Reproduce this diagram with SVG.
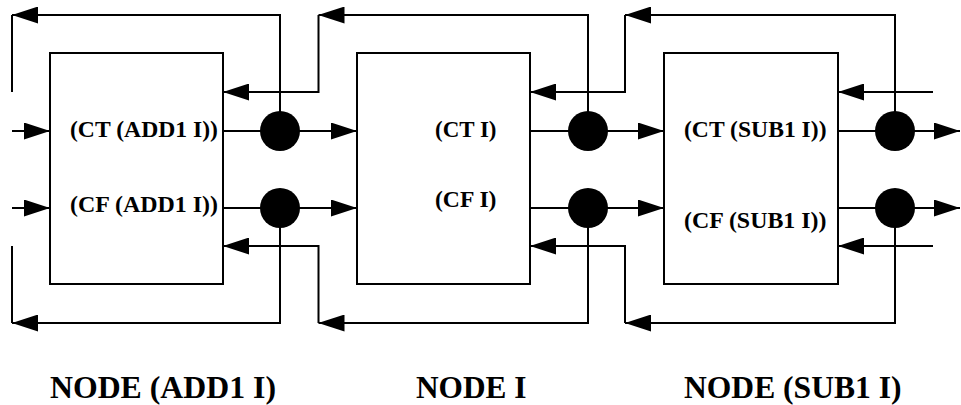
<svg xmlns="http://www.w3.org/2000/svg" width="961" height="405" viewBox="0 0 961 405">
<style>
.box{fill:#fff;stroke:#000;stroke-width:2}
.ln{fill:none;stroke:#000;stroke-width:2}
.ah{marker-end:url(#ah)}
.dot{fill:#000}
text{font-family:'Liberation Serif','Times New Roman',serif;font-weight:bold;fill:#000}
.lbl{font-size:23.5px}
.cap{font-size:31.5px}
</style>
<defs>
<marker id="ah" viewBox="0 0 26 17" refX="26" refY="8.5" markerWidth="26" markerHeight="17" markerUnits="userSpaceOnUse" orient="auto">
<path d="M0,0 L26,8.5 L0,17 z" fill="#000"/>
</marker>
</defs>
<rect width="961" height="405" fill="#fff"/>
<g id="connectors">
<path class="ln ah" d="M12,131 H50"/>
<path class="ln ah" d="M223,131 H357"/>
<path class="ln ah" d="M530,131 H664"/>
<path class="ln ah" d="M838,131 H960"/>
<path class="ln ah" d="M12,208 H50"/>
<path class="ln ah" d="M223,208 H357"/>
<path class="ln ah" d="M530,208 H664"/>
<path class="ln ah" d="M838,208 H960"/>
<path class="ln ah" d="M280,131 V15 H12"/>
<path class="ln" d="M12,15 V92"/>
<path class="ln ah" d="M588,131 V15 H318.5"/>
<path class="ln ah" d="M318.5,15 V92 H223"/>
<path class="ln ah" d="M895,131 V15 H625"/>
<path class="ln ah" d="M625,15 V92 H530"/>
<path class="ln ah" d="M933,92 H838"/>
<path class="ln ah" d="M280,208 V323 H12"/>
<path class="ln" d="M12,323 V246"/>
<path class="ln ah" d="M588,208 V323 H318.5"/>
<path class="ln ah" d="M318.5,323 V246 H223"/>
<path class="ln ah" d="M895,208 V323 H625"/>
<path class="ln ah" d="M625,323 V246 H530"/>
<path class="ln ah" d="M933,246 H838"/>
<circle class="dot" cx="280" cy="131" r="20"/>
<circle class="dot" cx="280" cy="208" r="20"/>
<circle class="dot" cx="588" cy="131" r="20"/>
<circle class="dot" cx="588" cy="208" r="20"/>
<circle class="dot" cx="895" cy="131" r="20"/>
<circle class="dot" cx="895" cy="208" r="20"/>
</g>
<g id="node-add1">
<rect class="box" x="50" y="53" width="173" height="231"/>
<text class="lbl" x="70" y="137" textLength="148" lengthAdjust="spacingAndGlyphs">(CT (ADD1 I))</text>
<text class="lbl" x="70" y="212" textLength="148" lengthAdjust="spacingAndGlyphs">(CF (ADD1 I))</text>
<text class="cap" x="50" y="397.5" textLength="226" lengthAdjust="spacingAndGlyphs">NODE (ADD1 I)</text>
</g>
<g id="node-i">
<rect class="box" x="357" y="53" width="173" height="231"/>
<text class="lbl" x="435" y="137" textLength="61.5" lengthAdjust="spacingAndGlyphs">(CT I)</text>
<text class="lbl" x="435" y="207" textLength="61.5" lengthAdjust="spacingAndGlyphs">(CF I)</text>
<text class="cap" x="416" y="397.5" textLength="110.5" lengthAdjust="spacingAndGlyphs">NODE I</text>
</g>
<g id="node-sub1">
<rect class="box" x="664" y="53" width="174" height="231"/>
<text class="lbl" x="684" y="137" textLength="142.5" lengthAdjust="spacingAndGlyphs">(CT (SUB1 I))</text>
<text class="lbl" x="684" y="228" textLength="142.5" lengthAdjust="spacingAndGlyphs">(CF (SUB1 I))</text>
<text class="cap" x="684" y="397.5" textLength="217.5" lengthAdjust="spacingAndGlyphs">NODE (SUB1 I)</text>
</g>
</svg>
